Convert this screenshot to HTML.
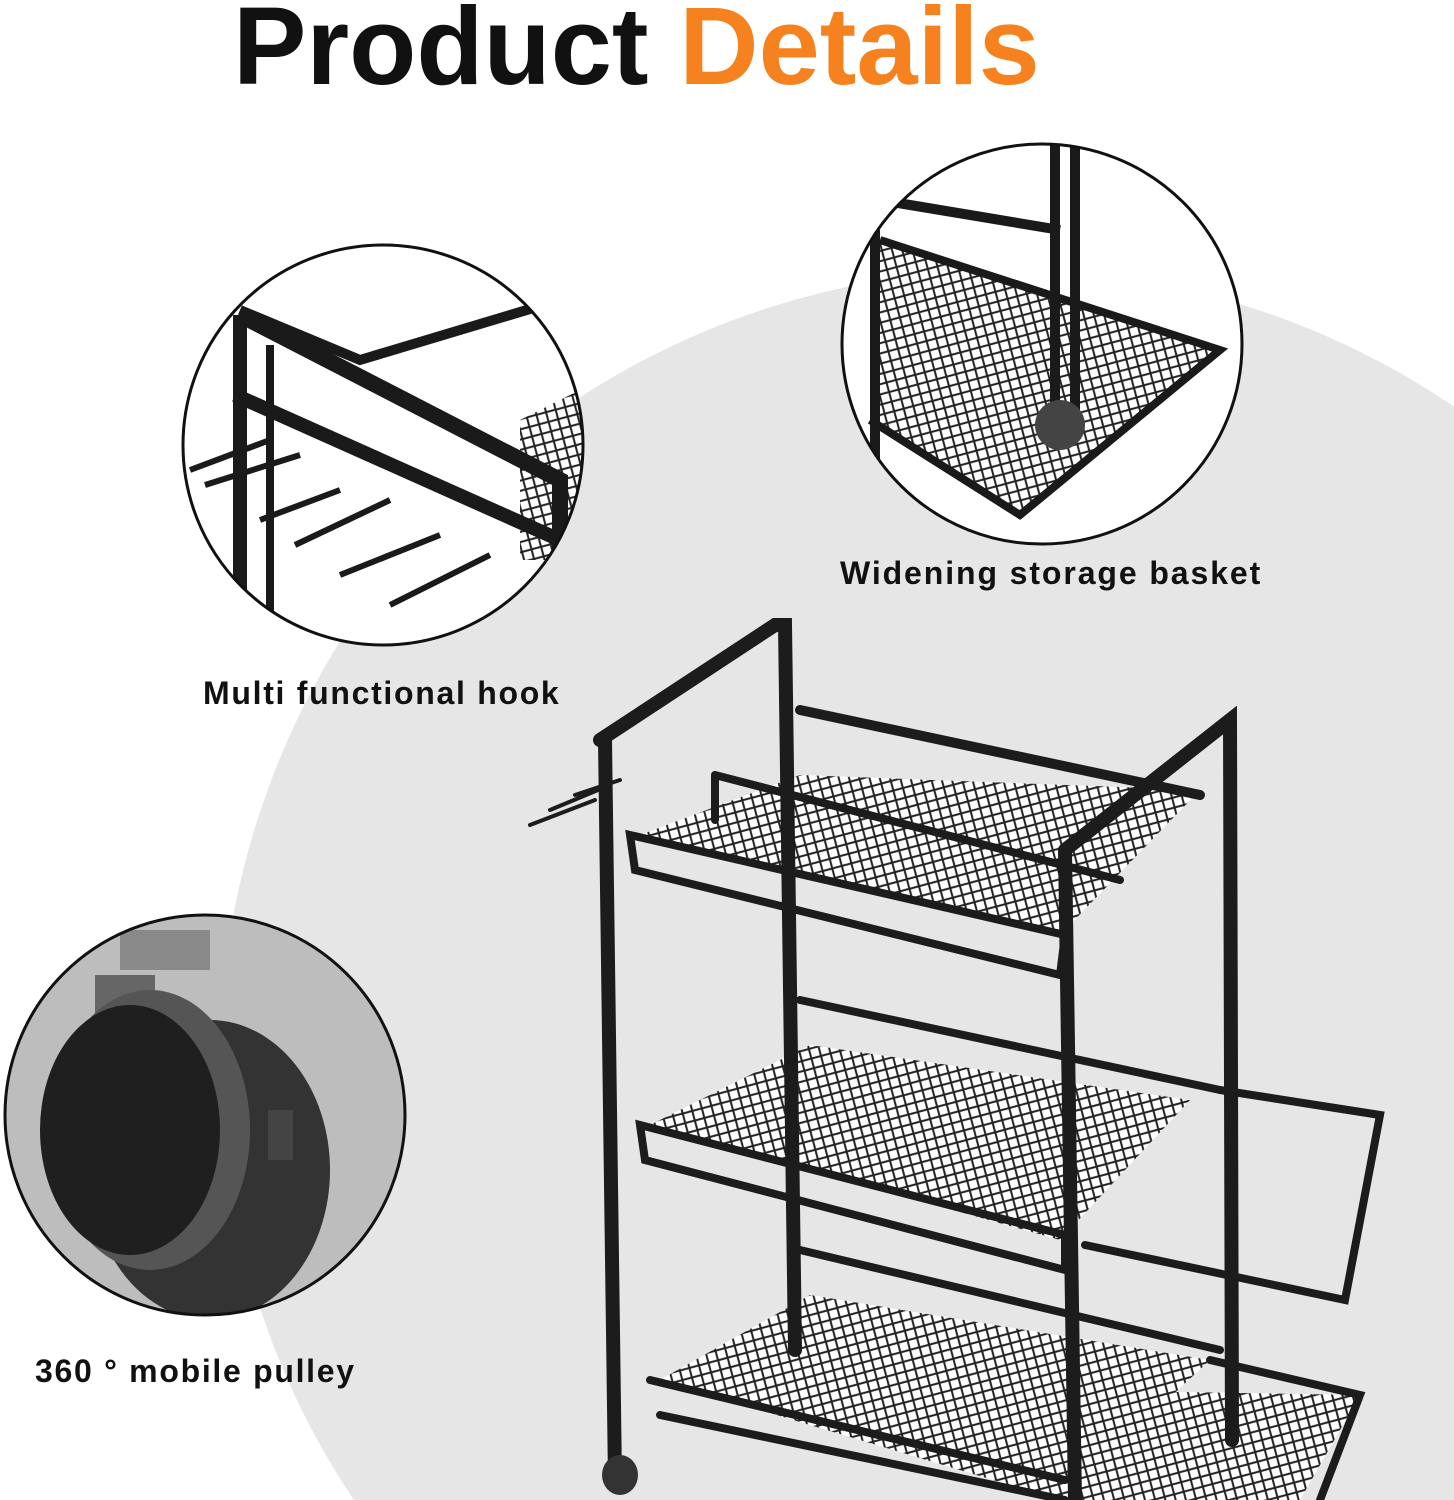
<!DOCTYPE html>
<html><head><meta charset="utf-8"><style>
html,body{margin:0;padding:0;background:#fff;overflow:hidden;width:1454px;height:1500px;}
body{position:relative;font-family:"Liberation Sans",sans-serif;}
.t{position:absolute;font-weight:bold;color:#111;white-space:nowrap;line-height:1.15;}
svg{display:block;}
</style></head><body>
<svg width="1454" height="1500" style="position:absolute;left:0;top:0">
<defs>
<pattern id="mesh" width="14" height="14" patternUnits="userSpaceOnUse" patternTransform="rotate(30)">
<rect width="14" height="14" fill="#fff"/>
<path d="M0 7 L7 0 L14 7 L7 14Z" fill="none" stroke="#222" stroke-width="2"/>
</pattern>
<clipPath id="c1"><circle cx="383" cy="445" r="200"/></clipPath>
<clipPath id="c2"><circle cx="1042" cy="344" r="200"/></clipPath>
<clipPath id="c3"><circle cx="205" cy="1115" r="200"/></clipPath>
<clipPath id="all"><rect width="1454" height="1500"/></clipPath>
</defs>
<g clip-path="url(#all)">
<circle cx="1010" cy="1060" r="790" fill="#e6e6e6"/>
<circle cx="383" cy="445" r="200" fill="#fff"/>
<g clip-path="url(#c1)" stroke="#1a1a1a" fill="none">
<polygon points="520,420 600,380 600,560 520,560" fill="url(#mesh)" stroke="none"/>
<path d="M240 315 L560 480 L560 620" stroke-width="16"/>
<path d="M240 315 L240 640" stroke-width="14"/>
<path d="M270 345 L270 640" stroke-width="8"/>
<path d="M240 310 L360 360 L560 300" stroke-width="10"/>
<path d="M235 395 L560 540" stroke-width="14"/>
<path d="M190 470 L270 440 M205 485 L300 455 M260 520 L340 490 M295 545 L390 500 M340 575 L440 535 M390 605 L490 555" stroke-width="6"/>
</g>
<circle cx="383" cy="445" r="200" fill="none" stroke="#111" stroke-width="3"/>
<circle cx="1042" cy="344" r="200" fill="#fff"/>
<g clip-path="url(#c2)" stroke="#1a1a1a" fill="none">
<polygon points="880,240 1220,350 1020,510 870,420" fill="url(#mesh)" stroke="none"/>
<path d="M880 240 L1220 350 L1020 515 L870 420" stroke-width="8"/>
<path d="M1055 140 L1055 410 M1075 140 L1075 410" stroke-width="10"/>
<path d="M880 200 L1060 230" stroke-width="10"/>
<path d="M875 230 L875 470" stroke-width="10"/>
<ellipse cx="1060" cy="425" rx="25" ry="25" fill="#444" stroke="none"/>
</g>
<circle cx="1042" cy="344" r="200" fill="none" stroke="#111" stroke-width="3"/>
<circle cx="205" cy="1115" r="200" fill="#bdbdbd"/>
<g clip-path="url(#c3)">
<rect x="120" y="930" width="90" height="40" fill="#8a8a8a"/>
<rect x="95" y="975" width="60" height="40" fill="#666"/>
<ellipse cx="210" cy="1170" rx="120" ry="150" fill="#333"/>
<ellipse cx="150" cy="1130" rx="100" ry="140" fill="#555"/>
<ellipse cx="130" cy="1130" rx="90" ry="125" fill="#1f1f1f"/>
<rect x="268" y="1110" width="25" height="50" fill="#444"/>
</g>
<circle cx="205" cy="1115" r="200" fill="none" stroke="#111" stroke-width="3"/>
<g stroke="#1c1c1c" fill="none" stroke-linecap="round">
<polygon points="640,835 800,775 1200,790 1060,935" fill="url(#mesh)" stroke="none"/>
<polygon points="650,1125 810,1045 1190,1100 1060,1240" fill="url(#mesh)" stroke="none"/>
<polygon points="660,1380 810,1295 1210,1360 1060,1500" fill="url(#mesh)" stroke="none"/>
<polygon points="1060,1390 1360,1395 1300,1500 1060,1500" fill="url(#mesh)" stroke="none"/>
<path d="M605 740 L615 1480 M600 740 L775 625 L785 625 L795 1350" stroke-width="14"/>
<path d="M1065 850 L1075 1500 M1065 850 L1230 720 L1232 1440" stroke-width="14"/>
<path d="M630 835 L1065 935 L1060 975 L635 870 Z" stroke-width="8"/>
<path d="M800 710 L1200 795" stroke-width="10"/>
<path d="M715 775 L715 820 M715 775 L1120 880" stroke-width="8"/>
<path d="M640 1125 L1065 1235 L1065 1270 L645 1160 Z" stroke-width="8"/>
<path d="M800 1000 L1220 1090" stroke-width="8"/>
<path d="M650 1380 L1065 1480 M660 1415 L1065 1500" stroke-width="8"/>
<path d="M800 1250 L1220 1350" stroke-width="8"/>
<path d="M1220 1090 L1380 1115 L1345 1300 L1085 1245" stroke-width="8"/>
<path d="M1210 1360 L1360 1395 L1320 1500" stroke-width="8"/>
<path d="M530 825 L595 800 M550 810 L610 785 M575 795 L620 780" stroke-width="4"/>
</g>
<ellipse cx="620" cy="1475" rx="18" ry="20" fill="#333"/>
</g>
</svg>
<div class="t" style="left:233px;top:-16px;font-size:110px;">Product <span style="color:#f5821f">Details</span></div>
<div class="t" style="left:203px;top:675px;font-size:32px;letter-spacing:1.7px;">Multi functional hook</div>
<div class="t" style="left:840px;top:555px;font-size:32px;letter-spacing:1.9px;">Widening storage basket</div>
<div class="t" style="left:35px;top:1353px;font-size:32px;letter-spacing:1.7px;">360 ° mobile pulley</div>
</body></html>
